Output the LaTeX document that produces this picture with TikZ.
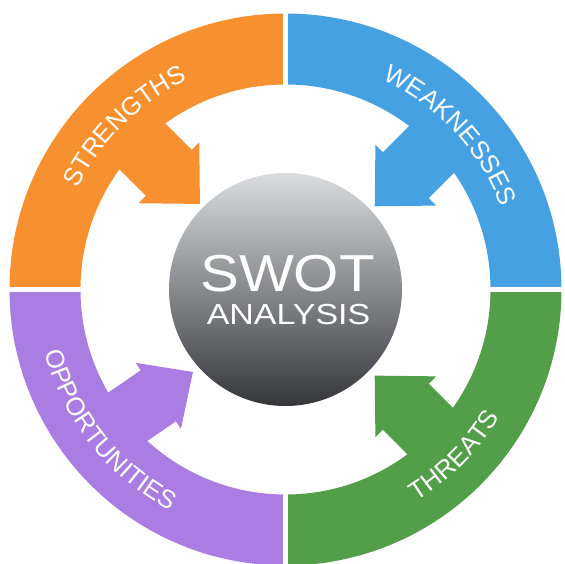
\documentclass[tikz,border=0pt]{standalone}
\usepackage{fontspec}
\setmainfont{Liberation Sans}
\usetikzlibrary{decorations.text}

\definecolor{strOrange}{RGB}{247,145,48}
\definecolor{weakBlue}{RGB}{70,161,226}
\definecolor{oppPurple}{RGB}{169,125,225}
\definecolor{thrGreen}{RGB}{83,158,73}
\definecolor{ballTop}{RGB}{218,221,223}
\definecolor{ballMid}{RGB}{140,141,143}
\definecolor{ballBot}{RGB}{52,54,57}

\begin{document}
\begin{tikzpicture}[x=1pt,y=1pt,
    gap/.style={white, line width=5.5pt},
    ringtext/.style={decorate, decoration={text along path, text align=center,
        text={|\color{white}\fontsize{25.5pt}{25.5pt}\selectfont|#1}}}
  ]

    % --- Frame ---
    \useasboundingbox (-285.5,-274.5) rectangle (278.5,289.5);
    \coordinate (O) at (0,0);   % centre of the wheel

    % --- Ring quadrants ---
    \fill[strOrange] (180:276pt) arc[start angle=180, end angle=90, radius=276pt]
        -- (90:205pt) arc[start angle=90, end angle=180, radius=205pt] -- cycle;
    \fill[weakBlue] (90:276pt) arc[start angle=90, end angle=0, radius=276pt]
        -- (0:205pt) arc[start angle=0, end angle=90, radius=205pt] -- cycle;
    \fill[thrGreen] (0:276pt) arc[start angle=0, end angle=-90, radius=276pt]
        -- (-90:205pt) arc[start angle=-90, end angle=0, radius=205pt] -- cycle;
    \fill[oppPurple] (270:276pt) arc[start angle=270, end angle=180, radius=276pt]
        -- (180:205pt) arc[start angle=180, end angle=270, radius=205pt] -- cycle;

    % --- Arrows ---
    % Each arrow: tip at the origin, shaft running back into the ring
    \fill[strOrange, shift={(135:121pt)}, rotate=135]
        (0,0) -- (44,43) -- (44,32.5) -- (110,32.5) -- (110,-32.5) -- (44,-32.5) -- (44,-43) -- cycle;
    \fill[weakBlue, shift={(43:122pt)}, rotate=45]
        (0,0) -- (44,43) -- (44,32.5) -- (110,32.5) -- (110,-32.5) -- (44,-32.5) -- (44,-43) -- cycle;
    \fill[thrGreen, shift={(-44:124pt)}, rotate=-45]
        (0,0) -- (44,43) -- (44,32.5) -- (110,32.5) -- (110,-32.5) -- (44,-32.5) -- (44,-43) -- cycle;
    \fill[oppPurple, shift={(221.7:124pt)}, rotate=214.5]
        (0,0) -- (42,40) -- (42,31) -- (110,31) -- (110,-31) -- (42,-31) -- (42,-40) -- cycle;

    % --- Gaps between quadrants ---
    \draw[gap] (90:195pt) -- (90:285pt);
    \draw[gap] (0:195pt) -- (0:285pt);
    \draw[gap] (180:195pt) -- (180:290pt);
    \draw[gap] (270:195pt) -- (270:285pt);

    % --- Centre ball ---
    \shade[top color=ballTop, middle color=ballMid, bottom color=ballBot] (O) circle (116.5pt);
    \node[white, font=\fontsize{52pt}{52pt}\selectfont, xscale=1.12] (swot) at (2,15.5) {SWOT};
    \node[white, font=\fontsize{29pt}{29pt}\selectfont, xscale=1.17] (analysis) at (3,-25.5) {ANALYSIS};

    % --- Ring labels ---
    \path[ringtext=STRENGTHS] (179.5:231pt) arc[start angle=179.5, end angle=89.5, radius=231pt];
    \path[ringtext=WEAKNESSES] (88:231pt) arc[start angle=88, end angle=-2, radius=231pt];
    \path[ringtext=THREATS] (-89.5:249pt) arc[start angle=-89.5, end angle=0.5, radius=249pt];
    \path[ringtext=OPPORTUNITIES] (173.5:249pt) arc[start angle=173.5, end angle=263.5, radius=249pt];

\end{tikzpicture}
\end{document}
